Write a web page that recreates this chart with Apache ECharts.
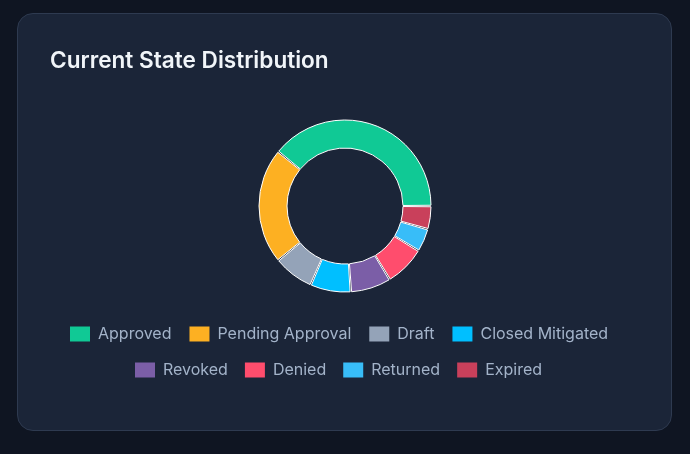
<!DOCTYPE html>
<html>
<head>
<meta charset="utf-8">
<script src="https://cdn.jsdelivr.net/npm/echarts@6/dist/echarts.min.js"></script>
<style>
  html, body { margin: 0; padding: 0; width: 690px; height: 454px; background: #0f1522; overflow: hidden; }
  .card {
    position: absolute; left: 17px; top: 13px; width: 653px; height: 416px;
    background: #1b2538; border: 1px solid #2e3a50; border-radius: 16px;
  }
  #chart { position: absolute; left: 0; top: 0; width: 690px; height: 454px; }
</style>
</head>
<body>
<div class="card"></div>
<div id="chart"></div>
<script>
'use strict';

// 各状态数量
var states = ['Approved', 'Pending Approval', 'Draft', 'Closed Mitigated', 'Revoked', 'Denied', 'Returned', 'Expired'];
var counts = [36, 20, 7, 7, 7, 7, 4, 4];
var colors = ['#10c995', '#fdb022', '#94a3b8', '#00bfff', '#7b5ea7', '#ff4d6d', '#38bdf8', '#c9405b'];

var pieData = [];
for (var i = 0; i < states.length; i++) {
  pieData.push({ name: states[i], value: counts[i], itemStyle: { color: colors[i] } });
}

// 图例分两行
function makeLegend(names, left, top, gap) {
  return {
    data: names,
    left: left,
    top: top,
    itemWidth: 20,
    itemHeight: 15,
    itemGap: gap,
    icon: 'rect',
    itemStyle: { borderWidth: 0 },
    textStyle: {
      color: '#a3b3c9',
      fontFamily: 'Inter',
      fontSize: 16,
      padding: [0, 0, 0, 3]
    }
  };
}

var chart = echarts.init(document.getElementById('chart'));
var option = {
  title: {
    text: 'Current State Distribution',
    left: 45,
    top: 45,
    textStyle: {
      color: '#f1f5f9',
      fontFamily: 'Inter',
      fontWeight: 600,
      fontSize: 22.6
    }
  },
  legend: [
    makeLegend(states.slice(0, 4), 65, 321, 18),
    makeLegend(states.slice(4), 130, 357, 17)
  ],
  series: [
    {
      name: 'State',
      type: 'pie',
      center: [345, 206],
      radius: [58, 86],
      startAngle: 0,
      clockwise: false,
      padAngle: 1,
      label: { show: false },
      labelLine: { show: false },
      itemStyle: {
        borderColor: '#ffffff',
        borderWidth: 1
      },
      data: pieData
    }
  ]
};

chart.setOption(option);
window.onresize = chart.resize;
</script>
</body>
</html>
